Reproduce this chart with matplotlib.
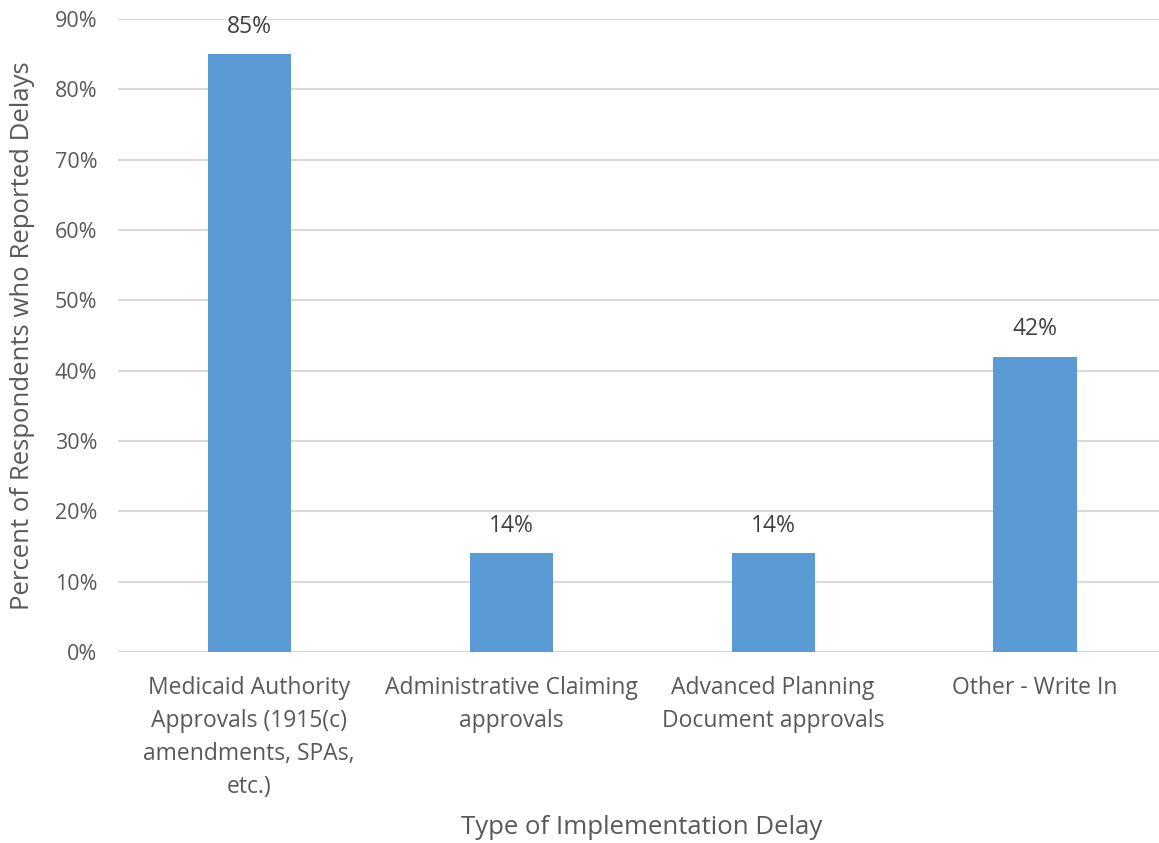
import matplotlib.pyplot as plt
from matplotlib.ticker import PercentFormatter

plt.rcParams['font.family'] = ['Open Sans', 'DejaVu Sans']

categories = ['Medicaid Authority\nApprovals (1915(c)\namendments, SPAs,\netc.)',
              'Administrative Claiming\napprovals',
              'Advanced Planning\nDocument approvals',
              'Other - Write In']
values = [85, 14, 14, 42]

grey = '#595959'
fig = plt.figure(figsize=(11.59, 8.43), dpi=100)
ax = fig.add_axes([0.102, 0.2266, 0.904, 0.751])

x = range(len(categories))
bars = ax.bar(x, values, width=0.317, color='#5B9BD5', zorder=3)
for b, v in zip(bars, values):
    ax.text(b.get_x() + b.get_width() / 2, v + 2.2, f'{v}%', ha='center', va='bottom',
            fontsize=16.5, color='#404040')

ax.set_xlim(-0.5, 3.5)
ax.set_ylim(0, 90)
ax.set_yticks(range(0, 91, 10))
ax.yaxis.set_major_formatter(PercentFormatter(decimals=0))
ax.set_xticks(list(x))
ax.set_xticklabels(categories, fontsize=16.5, color=grey, va='top', linespacing=1.5)
ax.tick_params(axis='y', labelsize=15.5, colors=grey, length=0, pad=15)
ax.tick_params(axis='x', length=0, pad=17)
ax.grid(axis='y', color='#D9D9D9', linewidth=1.5, zorder=0)
for s in ax.spines.values():
    s.set_visible(False)

ax.set_xlabel('Type of Implementation Delay', fontsize=18.5, color=grey, labelpad=12)
ax.set_ylabel('Percent of Respondents who Reported Delays', fontsize=18.5, color=grey, labelpad=14)

fig.savefig('out.png', dpi=100)
